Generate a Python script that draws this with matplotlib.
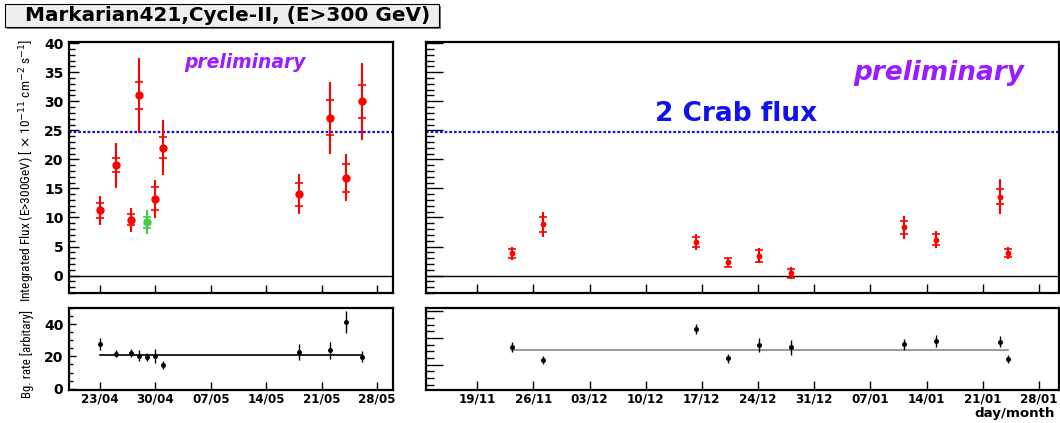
import matplotlib
matplotlib.use("Agg")
import matplotlib.pyplot as plt
import matplotlib.dates as mdates
from matplotlib.patches import Rectangle
from matplotlib.ticker import MultipleLocator, NullFormatter
import numpy as np
import pandas as pd

plt.rcParams['font.family'] = ['DejaVu Sans']

# ---- data ----
crab2 = 24.7  # 2 Crab flux level

left_dates = ['2006-04-23', '2006-04-25', '2006-04-27', '2006-04-28', '2006-04-29',
              '2006-04-30', '2006-05-01', '2006-05-18 02:00', '2006-05-22 02:00',
              '2006-05-24 02:00', '2006-05-26 02:00']
left_flux = [11.2, 19.0, 9.6, 31.0, 9.2, 13.2, 22.0, 14.0, 27.2, 16.8, 30.0]
left_stat = [1.35, 1.15, 0.95, 2.3, 0.95, 2.0, 1.85, 2.0, 3.05, 2.35, 2.8]
left_tot = [2.5, 3.9, 2.05, 6.4, 2.0, 3.3, 4.7, 3.45, 6.2, 4.05, 6.6]
left_col = ['red', 'red', 'red', 'red', '#44cc44', 'red', 'red', 'red', 'red', 'red', 'red']
left_bg = [27.7, 21.8, 22.4, 20.3, 19.9, 20.3, 14.8, 22.9, 23.7, 41.3, 19.9]
left_bg_err = [3.8, 2.1, 2.5, 3.4, 2.5, 4.6, 2.5, 4.9, 5.0, 6.8, 3.5]
left_bg_fit = 21.0
left_ticks = ['2006-04-23', '2006-04-30', '2006-05-07', '2006-05-14', '2006-05-21', '2006-05-28']
left_range = ['2006-04-19 03:00', '2006-05-30']

right_dates = ['2005-11-23 07:00', '2005-11-27 05:00', '2005-12-16 05:00', '2005-12-20 05:00',
               '2005-12-24 03:00', '2005-12-28 03:00', '2006-01-11 03:00', '2006-01-15 03:00',
               '2006-01-23 03:00', '2006-01-24 03:00']
right_flux = [3.8, 8.8, 5.8, 2.25, 3.4, 0.4, 8.3, 6.2, 13.6, 3.85]
right_stat = [0.8, 1.25, 0.85, 0.7, 1.0, 0.75, 1.15, 1.0, 1.3, 0.65]
right_tot = [1.05, 2.1, 1.4, 0.8, 1.3, 1.0, 1.95, 1.5, 2.95, 1.0]
right_bg = [16.8, 11.8, 23.4, 12.4, 17.5, 16.5, 17.6, 18.9, 18.6, 12.2]
right_bg_err = [1.9, 1.6, 2.0, 1.7, 2.7, 2.8, 2.1, 2.1, 2.0, 1.6]
right_bg_fit = 15.7
right_ticks = ['2005-11-19', '2005-11-26', '2005-12-03', '2005-12-10', '2005-12-17', '2005-12-24',
               '2005-12-31', '2006-01-07', '2006-01-14', '2006-01-21', '2006-01-28']
right_range = ['2005-11-12 15:00', '2006-01-30 12:00']


def dt(v):
    return pd.to_datetime(v, format='mixed')


W, H = 1060, 423
fig = plt.figure(figsize=(W / 100, H / 100), dpi=100)


def box(x0, y0, x1, y1):
    return [x0 / W, 1 - y1 / H, (x1 - x0) / W, (y1 - y0) / H]


ax_lt = fig.add_axes(box(69, 42, 393, 293))
ax_lb = fig.add_axes(box(69, 308, 393, 390))
ax_rt = fig.add_axes(box(426, 42, 1059, 293))
ax_rb = fig.add_axes(box(426, 308, 1059, 390))


def style(ax, rng, ticks, ymaj, ymin, ylen, xlen, labels):
    ax.set_xlim(dt(rng[0]), dt(rng[1]))
    ax.set_xticks(dt(ticks))
    ax.xaxis.set_major_formatter(mdates.DateFormatter('%d/%m'))
    ax.yaxis.set_major_locator(MultipleLocator(ymaj))
    ax.yaxis.set_minor_locator(MultipleLocator(ymin))
    for s in ax.spines.values():
        s.set_linewidth(1.6)
    ax.tick_params(axis='y', which='major', direction='in', length=ylen[0], width=1.0, pad=4)
    ax.tick_params(axis='y', which='minor', direction='in', length=ylen[1], width=1.0)
    ax.tick_params(axis='x', which='major', direction='in', length=xlen, width=1.0, pad=2)
    for t in ax.get_yticklabels():
        t.set_fontweight('bold')
        t.set_fontsize(10)
    for t in ax.get_xticklabels():
        t.set_fontweight('bold')
        t.set_fontsize(8.6)
    if not labels:
        ax.xaxis.set_major_formatter(NullFormatter())


def flux_panel(ax, dates, flux, stat, tot, cols, ms, cap):
    x = dt(dates)
    ax.axhline(0, color='black', lw=1.0)
    ax.axhline(crab2, color='#1010f0', lw=1.6, ls=(0, (1.2, 0.9)))
    for xi, yi, si, ti, c in zip(x, flux, stat, tot, cols):
        ax.errorbar([xi], [yi], yerr=[ti], fmt='o', color=c, ms=ms, mew=0,
                    elinewidth=1.5, capsize=0)
        ax.errorbar([xi], [yi], yerr=[si], fmt='none', ecolor=c, elinewidth=0,
                    capsize=cap, capthick=1.2)
    ax.set_ylim(-3, 40.2)


def bg_panel(ax, dates, bg, err, fit, fitcol):
    x = dt(dates)
    ax.plot([x[0], x[-1]], [fit, fit], color=fitcol, lw=1.2)
    ax.errorbar(x, bg, yerr=err, fmt='o', color='black', ms=3.6, mew=0,
                elinewidth=1.0, capsize=1.4, capthick=1.0)


flux_panel(ax_lt, left_dates, left_flux, left_stat, left_tot, left_col, 6, 3.0)
flux_panel(ax_rt, right_dates, right_flux, right_stat, right_tot, ['red'] * len(right_flux), 4.2, 2.7)
bg_panel(ax_lb, left_dates, left_bg, left_bg_err, left_bg_fit, 'black')
bg_panel(ax_rb, right_dates, right_bg, right_bg_err, right_bg_fit, '#888888')
ax_lb.set_ylim(-0.8, 50)
ax_rb.set_ylim(0.5, 31.3)

style(ax_lt, left_range, left_ticks, 5, 1, (7, 4), 6, False)
style(ax_lb, left_range, left_ticks, 20, 5, (5, 3), 6, True)
style(ax_rt, right_range, right_ticks, 5, 1, (12.5, 6), 6.5, False)
style(ax_rb, right_range, right_ticks, 10, 2.5, (12.5, 6), 6.5, True)
ax_rt.yaxis.set_major_formatter(NullFormatter())
ax_rb.yaxis.set_major_formatter(NullFormatter())

ax_lt.text(0.543, 0.92, 'preliminary', transform=ax_lt.transAxes, ha='center', va='center',
           color='#9a1cff', fontsize=13.5, fontweight='bold', fontstyle='italic')
ax_rt.text(0.81, 0.876, 'preliminary', transform=ax_rt.transAxes, ha='center', va='center',
           color='#9a1cff', fontsize=19, fontweight='bold', fontstyle='italic')
ax_rt.text(0.49, 0.713, '2 Crab flux', transform=ax_rt.transAxes, ha='center', va='center',
           color='#1010f0', fontsize=19, fontweight='bold')

lab_font = ['Liberation Sans Narrow', 'Roboto Condensed', 'Liberation Sans', 'DejaVu Sans']
ylab_top = fig.text(27 / W, 1 - 170 / H,
                    r'Integrated Flux (E>300GeV) [ $\times$ 10$^{-11}$ cm$^{-2}$ s$^{-1}$]',
                    rotation=90, ha='center', va='center', fontsize=11, family=lab_font)
ylab_bot = fig.text(27 / W, 1 - 354 / H, 'Bg. rate [arbitary]', rotation=90, ha='center',
                    va='center', fontsize=10, family=lab_font)
fig.text(1055 / W, 1 - 413 / H, 'day/month', ha='right', va='center', fontsize=9.6,
         fontweight='bold')

# shrink the y labels to the length they have in the reference
fig.canvas.draw()
rend = fig.canvas.get_renderer()
for t, target in ((ylab_top, 264), (ylab_bot, 87)):
    h = t.get_window_extent(rend).height
    t.set_fontsize(t.get_fontsize() * target / h)

# title box with shadow
fig.patches.append(Rectangle((7 / W, 1 - 29 / H), 434 / W, 23 / H, transform=fig.transFigure,
                             figure=fig, facecolor='#777777', edgecolor='none'))
fig.patches.append(Rectangle((5 / W, 1 - 27 / H), 434 / W, 23 / H, transform=fig.transFigure,
                             figure=fig, facecolor='#eeeeee', edgecolor='black', lw=0.8))
fig.text(228 / W, 1 - 15.5 / H, 'Markarian421,Cycle-II, (E>300 GeV)', ha='center', va='center',
         fontsize=14.4, fontweight='bold')

fig.savefig('out.png', dpi=100)
